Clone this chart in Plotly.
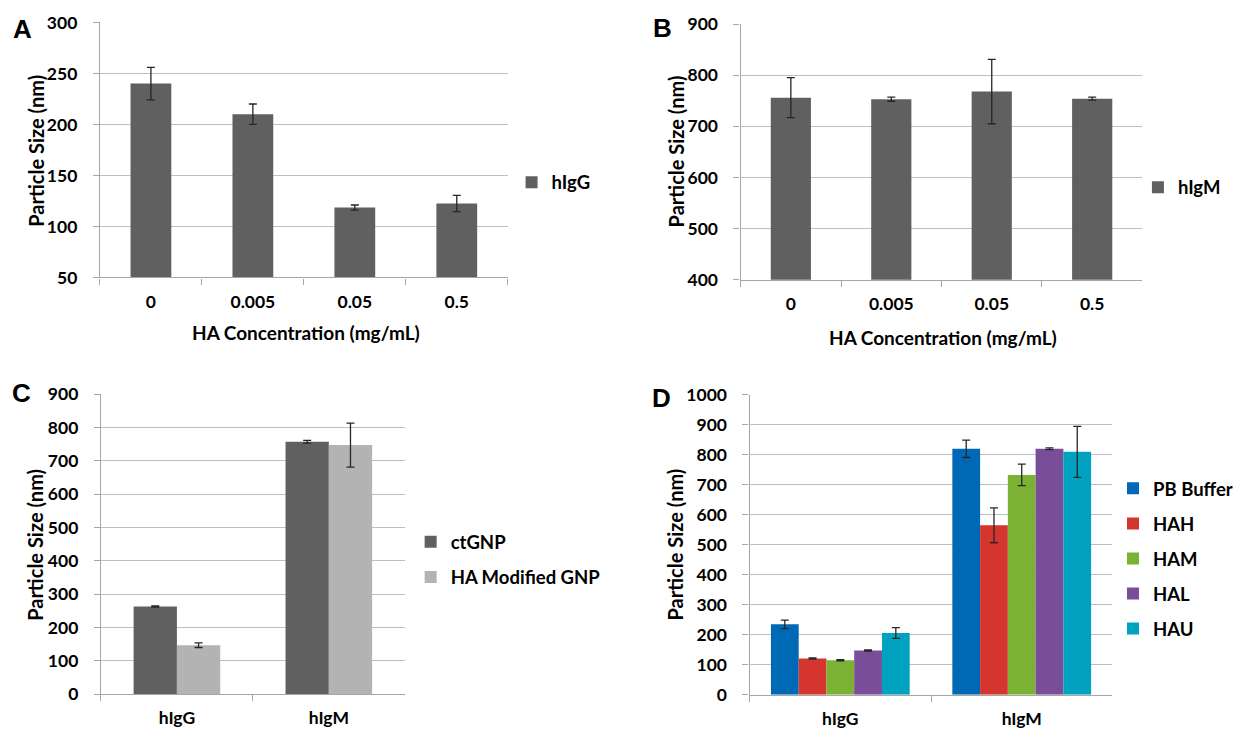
import plotly.graph_objects as go

W, H = 1238, 730

# ---------------- data ----------------
conc_labels = ["0", "0.005", "0.05", "0.5"]

a_igg = [240, 210, 118.5, 122.5]
a_igg_err = [16, 10, 2.5, 8]

b_igm = [756, 753, 768, 754]
b_igm_err = [39, 4, 63, 3]

c_cats = ["hIgG", "hIgM"]
c_ctgnp = [263, 757]
c_ctgnp_err = [2, 4]
c_hagnp = [147, 747]
c_hagnp_err = [7, 66]

d_cats = ["hIgG", "hIgM"]
d_names = ["PB Buffer", "HAH", "HAM", "HAL", "HAU"]
d_pb = [235, 820]
d_pb_err = [14, 29]
d_hah = [121, 565]
d_hah_err = [2, 58]
d_ham = [115, 733]
d_ham_err = [2, 36]
d_hal = [148, 820]
d_hal_err = [2, 3]
d_hau = [206, 810]
d_hau_err = [18, 85]

# ---------------- style ----------------
FONT = "Lato, 'Open Sans', sans-serif"
TICKF = dict(family=FONT, size=17.5, color="black", weight="bold")
TITLEF = dict(family=FONT, size=19, color="black", weight="bold")
VTITLEF = dict(family=FONT, size=20, color="black", weight="bold")
LEGF = dict(family=FONT, size=18.5, color="black", weight="bold")
GRID = "#bfbfbf"
AXL = "#a6a6a6"
ERRC = "#262626"
DARK = "#606060"
LIGHT = "#b3b3b3"
d_colors = ["#0069b6", "#d4352f", "#7bb234", "#7a4d98", "#00a2c0"]

# calibration of the photographed page (observed: shown_y = 11.3 + 0.971*y, shown_x = 0.99*x)
VOFF, VSC = 11.3, 0.971
HSC = 0.99


def py(y):
    return 1 - ((y - VOFF) / VSC) / H


def px(x):
    return (x / HSC) / W


def xd(l, r):
    return [px(l), min(1.0, px(r))]


def yd(t, b):
    return [max(0.0, py(b)), min(1.0, py(t))]


def err(arr):
    return dict(type="data", array=arr, color=ERRC, thickness=1.3, width=4, visible=True)


fig = go.Figure()

# Panel A
fig.add_trace(go.Bar(x=conc_labels, y=a_igg, name="hIgG", marker=dict(color=DARK, line=dict(width=0)),
                     width=0.4, error_y=err(a_igg_err), xaxis="x", yaxis="y", legend="legend"))
# Panel B
fig.add_trace(go.Bar(x=conc_labels, y=b_igm, name="hIgM", marker=dict(color=DARK, line=dict(width=0)),
                     width=0.4, error_y=err(b_igm_err), xaxis="x2", yaxis="y2", legend="legend2"))
# Panel C
cw = 0.285
fig.add_trace(go.Bar(x=c_cats, y=c_ctgnp, name="ctGNP", marker=dict(color=DARK, line=dict(width=0)),
                     width=cw, offset=-cw, error_y=err(c_ctgnp_err), xaxis="x3", yaxis="y3",
                     legend="legend3", legendgroup="c1"))
fig.add_trace(go.Bar(x=c_cats, y=c_hagnp, name="HA Modified GNP", marker=dict(color=LIGHT, line=dict(width=0)),
                     width=cw, offset=0, error_y=err(c_hagnp_err), xaxis="x3", yaxis="y3",
                     legend="legend3", legendgroup="c2"))
# Panel D
dw = 0.153
d_vals = [d_pb, d_hah, d_ham, d_hal, d_hau]
d_errs = [d_pb_err, d_hah_err, d_ham_err, d_hal_err, d_hau_err]
for i, (nm, v, e, col) in enumerate(zip(d_names, d_vals, d_errs, d_colors)):
    fig.add_trace(go.Bar(x=d_cats, y=v, name=nm, marker=dict(color=col, line=dict(width=0)),
                         width=dw, offset=-2.5 * dw + i * dw, error_y=err(e), xaxis="x4", yaxis="y4",
                         legend="legend4", legendgroup="d%d" % i))


def xaxis(dom, anchor, n):
    return dict(domain=dom, anchor=anchor, type="category", range=[-0.5, n - 0.5],
                showline=True, linecolor=AXL, linewidth=1.3, ticks="outside", tickson="boundaries",
                ticklen=6, tickcolor=AXL, tickwidth=1.3, showgrid=False, tickfont=TICKF,
                ticklabelstandoff=8, fixedrange=True)


def yaxis(dom, anchor, rng, dt):
    return dict(domain=dom, anchor=anchor, range=rng, dtick=dt, tick0=0, showline=True, linecolor=AXL,
                linewidth=1.3, ticks="outside", ticklen=6, tickcolor=AXL, tickwidth=1.3,
                showgrid=True, gridcolor=GRID, gridwidth=1.3, zeroline=False, tickfont=TICKF,
                ticklabelstandoff=12, fixedrange=True)


A_x, A_y = xd(100, 508), yd(22.7, 277.7)
B_x, B_y = xd(741, 1143), yd(24.3, 280)
C_x, C_y = xd(101, 405), yd(394.3, 694.3)
D_x, D_y = xd(750, 1113), yd(395, 695)

leg = dict(font=LEGF, bgcolor="rgba(0,0,0,0)", xanchor="left", yanchor="middle",
           traceorder="grouped", tracegroupgap=8, itemwidth=30)

fig.update_layout(
    width=W, height=H, margin=dict(l=0, r=0, t=0, b=0), autosize=False,
    paper_bgcolor="white", plot_bgcolor="white",
    barmode="overlay",
    xaxis=xaxis(A_x, "y", 4), yaxis=yaxis(A_y, "x", [50, 300], 50),
    xaxis2=xaxis(B_x, "y2", 4), yaxis2=yaxis(B_y, "x2", [400, 900], 100),
    xaxis3=xaxis(C_x, "y3", 2), yaxis3=yaxis(C_y, "x3", [0, 900], 100),
    xaxis4=xaxis(D_x, "y4", 2), yaxis4=yaxis(D_y, "x4", [0, 1000], 100),
    legend=dict(leg, x=517 / W, y=py(183)),
    legend2=dict(leg, x=1150 / W, y=py(188)),
    legend3=dict(leg, x=415 / W, y=py(560)),
    legend4=dict(leg, x=1125 / W, y=py(559)),
    showlegend=True,
)

annots = []
# panel letters
for letter, x, y in [("A", 23, 29), ("B", 663, 28), ("C", 22, 393), ("D", 662, 398)]:
    annots.append(dict(text=letter, x=px(x), y=py(y), xref="paper", yref="paper",
                       showarrow=False, xanchor="center", yanchor="middle",
                       font=dict(family="Liberation Sans, Arial, sans-serif", size=26, color="black",
                                 weight="bold")))
# axis titles
for x, y in [(36, 151), (676, 152), (35, 545), (675, 545)]:
    annots.append(dict(text="Particle Size (nm)", x=px(x), y=py(y), xref="paper", yref="paper",
                       showarrow=False, textangle=-90, xanchor="center", yanchor="middle", font=VTITLEF))
for x, y in [(306, 333), (943, 338)]:
    annots.append(dict(text="HA Concentration (mg/mL)", x=px(x), y=py(y), xref="paper",
                       yref="paper", showarrow=False, xanchor="center", yanchor="middle", font=TITLEF))
fig.update_layout(annotations=annots)

fig.write_html("out.html", config={"displayModeBar": False},
               post_script="document.body.style.margin='0px';document.body.style.overflow='hidden';")
